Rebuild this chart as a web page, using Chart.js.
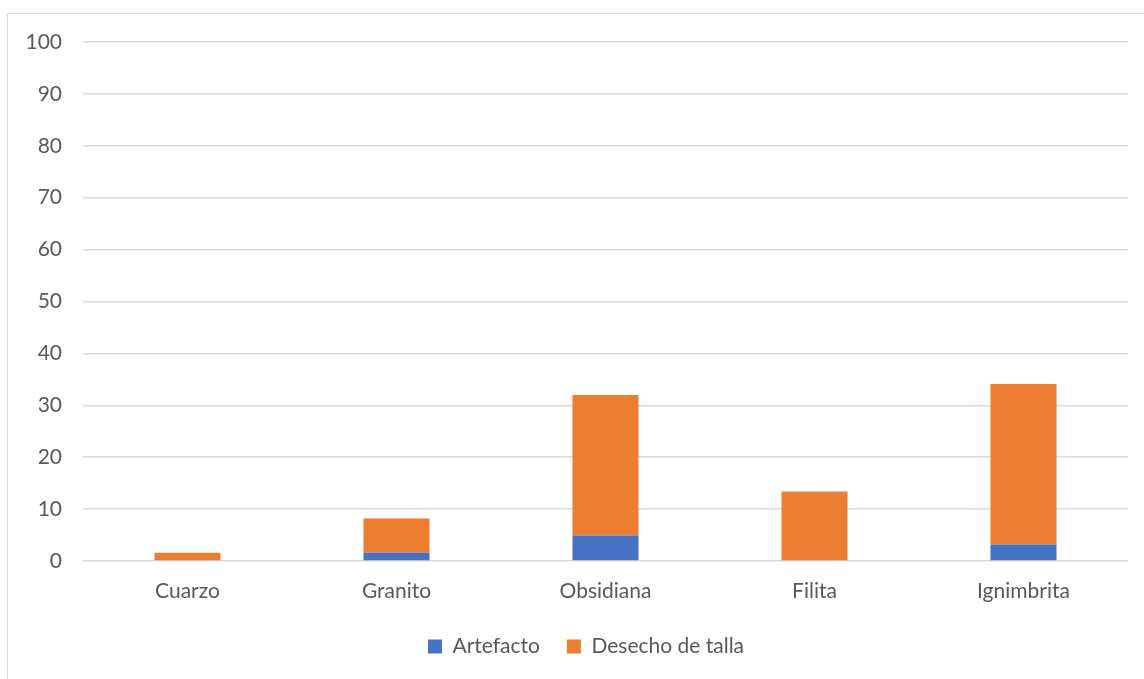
<!DOCTYPE html>
<html>
<head>
<meta charset="utf-8">
<script src="https://cdn.jsdelivr.net/npm/chart.js@4"></script>
<style>
  html, body { margin: 0; padding: 0; background: #fff; }
  #wrap { position: relative; width: 1144px; height: 679px; overflow: hidden; }
  #frame { position: absolute; left: 7px; top: 13px; width: 1150px; height: 700px; border: 1px solid #d9d9d9; box-sizing: border-box; }
  #chart { position: absolute; left: 0; top: 0; }
</style>
</head>
<body>
<div id="wrap">
  <div id="frame"></div>
  <canvas id="chart" width="1144" height="679"></canvas>
</div>
<script>
var categories = ["Cuarzo", "Granito", "Obsidiana", "Filita", "Ignimbrita"];
var artefacto = [0, 1.6, 4.9, 0, 3.2];
var desecho = [1.6, 6.6, 27.1, 13.4, 30.9];
var yTicks = [0, 10, 20, 30, 40, 50, 60, 70, 80, 90, 100];

var fontFamily = "Lato, 'Open Sans', sans-serif";
var textColor = "#595959";

// nudge the legend so it sits under the plot area, not the whole canvas
var legendShift = {
    id: 'legendShift',
    afterLayout: function (chart) {
        if (chart.legend) {
            chart.legend.left += 22;
            chart.legend.right += 22;
        }
    }
};

var ctx = document.getElementById("chart").getContext("2d");
new Chart(ctx, {
    type: 'bar',
    data: {
        labels: categories,
        datasets: [
            {
                label: "Artefacto",
                backgroundColor: "#4472C4",
                data: artefacto
            },
            {
                label: "Desecho de talla",
                backgroundColor: "#ED7D31",
                data: desecho
            }
        ]
    },
    plugins: [legendShift],
    options: {
        responsive: false,
        animation: false,
        layout: { padding: { left: 0, right: 16, top: 42, bottom: 12 } },
        datasets: { bar: { categoryPercentage: 1, barPercentage: 0.316 } },
        plugins: {
            tooltip: { enabled: false },
            legend: {
                position: 'bottom',
                labels: {
                    color: textColor,
                    font: { family: fontFamily, size: 21 },
                    boxWidth: 14,
                    boxHeight: 14,
                    padding: 27
                }
            }
        },
        scales: {
            x: {
                stacked: true,
                grid: { display: false },
                border: { display: false },
                ticks: { color: textColor, font: { family: fontFamily, size: 21 }, padding: 10 },
                afterFit: function (axis) { axis.height = 48; }
            },
            y: {
                stacked: true,
                min: 0,
                max: 100,
                afterBuildTicks: function (axis) {
                    axis.ticks = yTicks.map(function (v) { return { value: v }; });
                },
                grid: { color: "#d9d9d9", lineWidth: 1.5, drawTicks: false },
                border: { display: false },
                ticks: { color: textColor, font: { family: fontFamily, size: 21 }, padding: 21 },
                afterFit: function (axis) { axis.width = 83; }
            }
        }
    }
});
</script>
</body>
</html>
